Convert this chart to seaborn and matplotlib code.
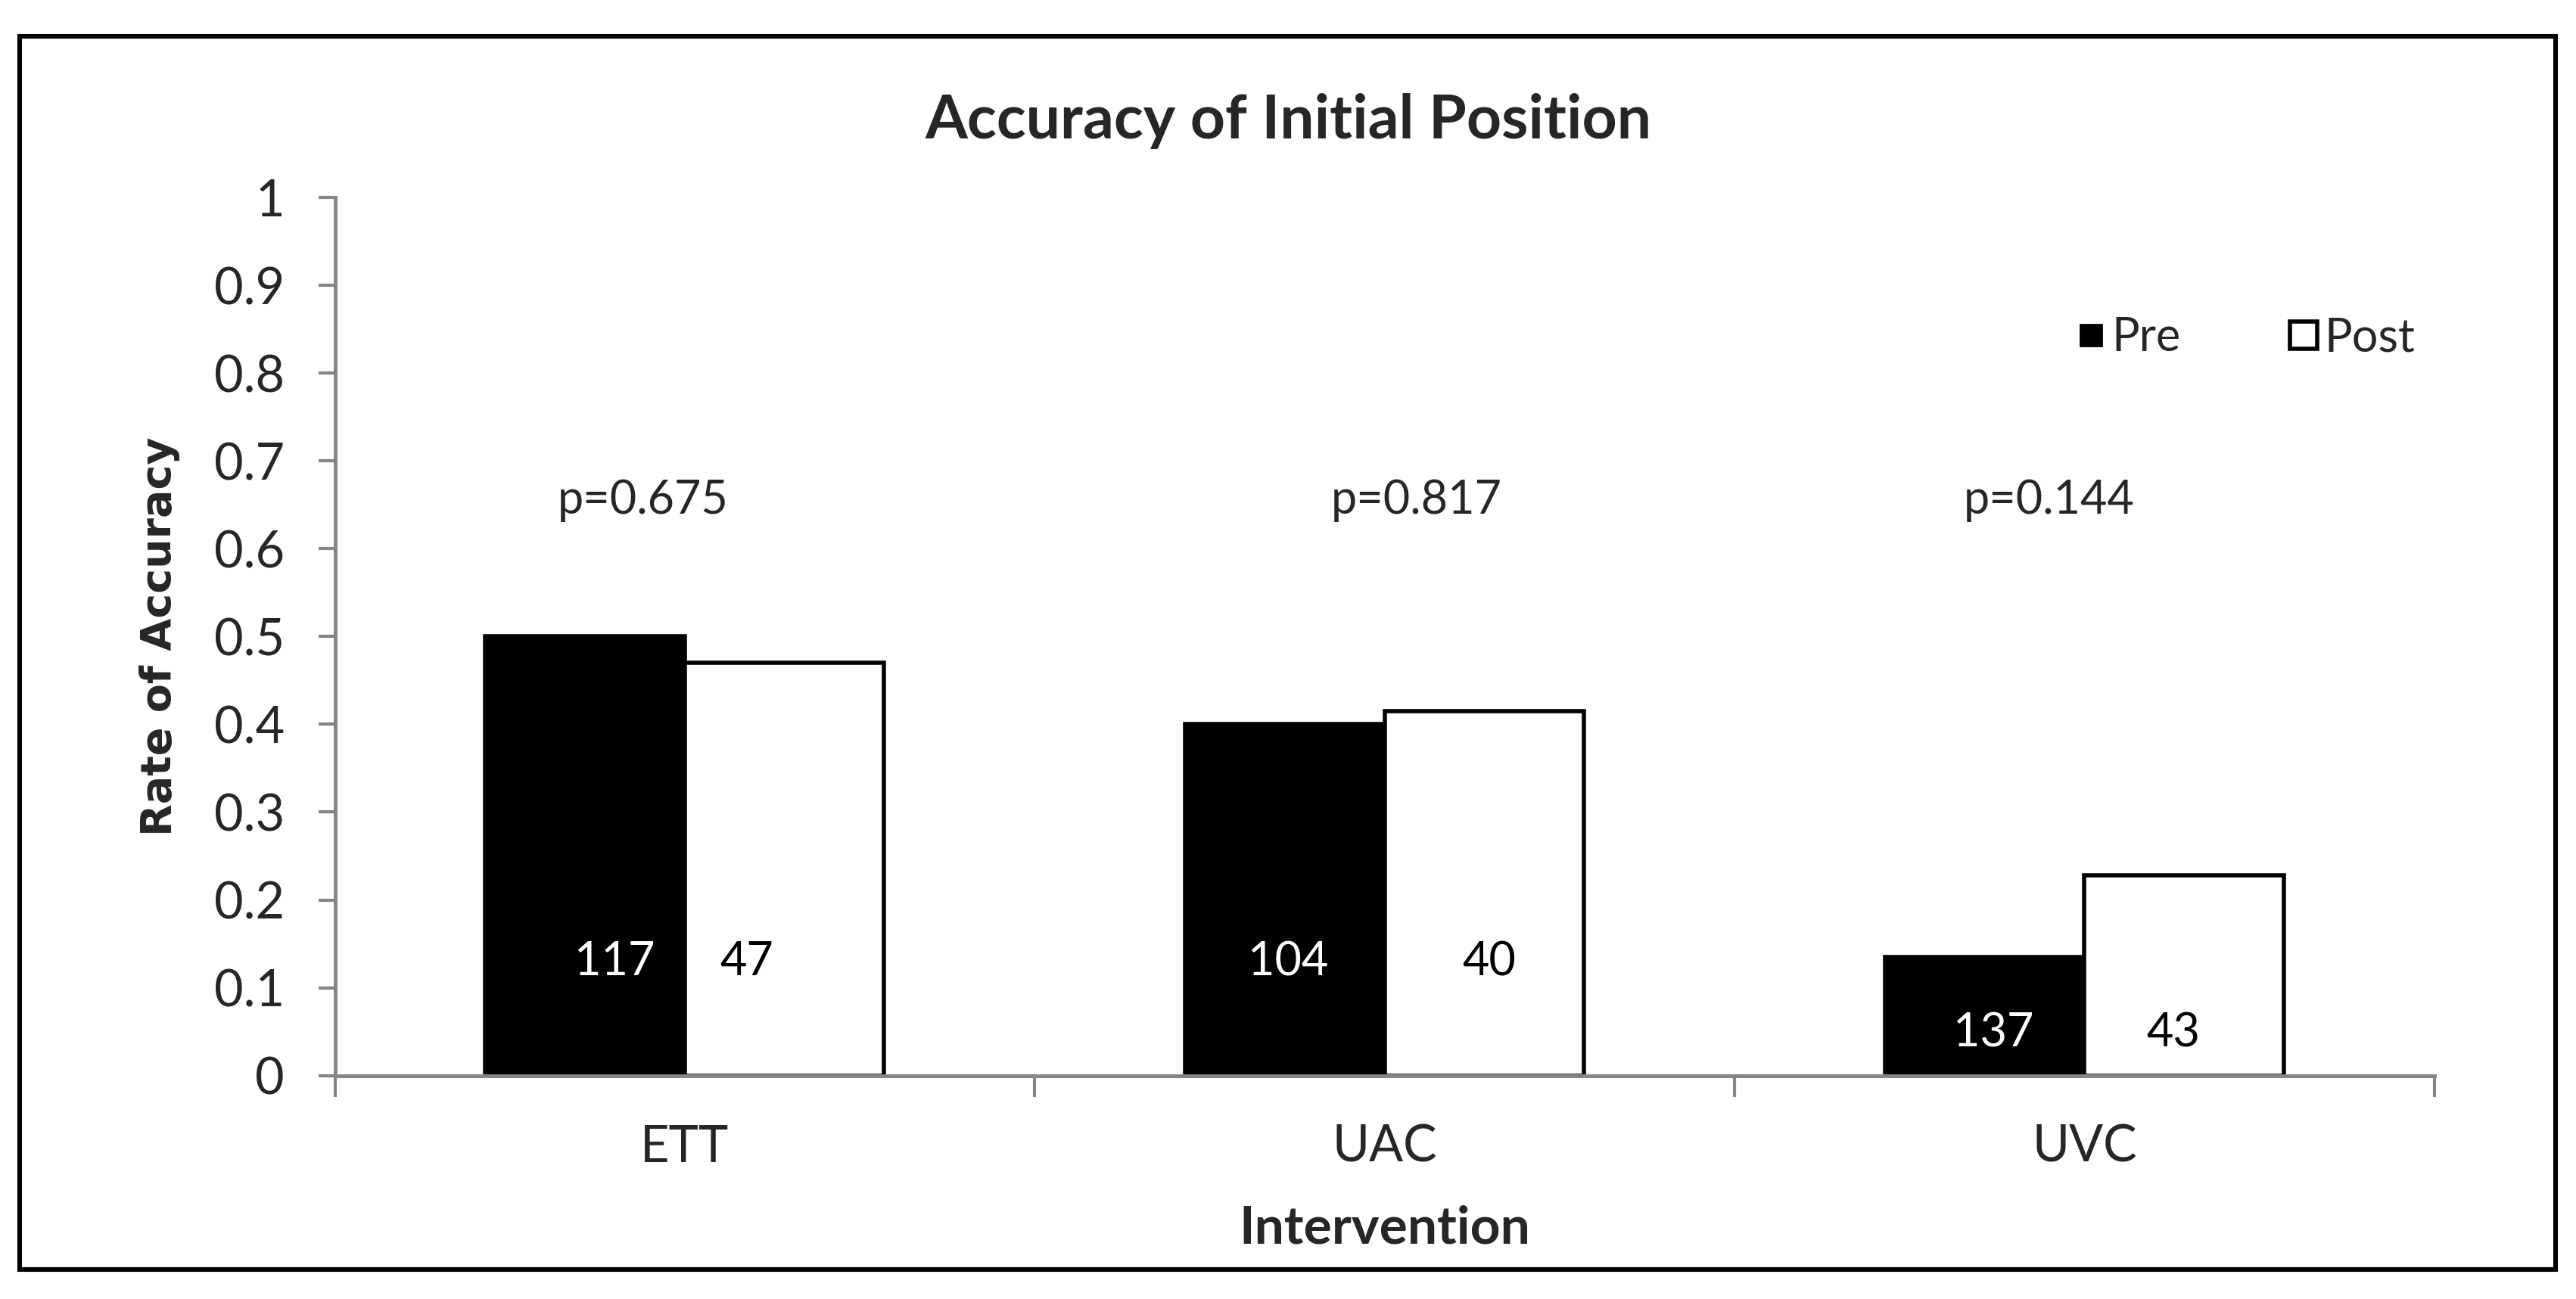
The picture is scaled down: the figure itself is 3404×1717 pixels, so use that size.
import matplotlib
matplotlib.use("Agg")
import matplotlib.pyplot as plt
import matplotlib.patches as mpatches
from matplotlib.lines import Line2D
import numpy as np
import pandas as pd
import seaborn as sns

# data
interventions = ["ETT", "UAC", "UVC"]
pre_rate = [0.50, 0.40, 0.135]
post_rate = [0.47, 0.415, 0.228]
pre_n = [117, 104, 137]
post_n = [47, 40, 43]
p_values = ["p=0.675", "p=0.817", "p=0.144"]
count_label_y = [0.129, 0.129, 0.048]
y_ticks = [0, 0.1, 0.2, 0.3, 0.4, 0.5, 0.6, 0.7, 0.8, 0.9, 1]
y_tick_labels = ["0", "0.1", "0.2", "0.3", "0.4", "0.5", "0.6", "0.7", "0.8", "0.9", "1"]

df = pd.DataFrame({
    "Intervention": interventions * 2,
    "Rate": pre_rate + post_rate,
    "Period": ["Pre"] * 3 + ["Post"] * 3,
})

sns.set_style("white")
plt.rcParams["font.family"] = ["Lato", "DejaVu Sans"]

fig = plt.figure(figsize=(17.02, 8.585), dpi=200)
ax = fig.add_axes([0.130, 0.172, 0.815, 0.676])

sns.barplot(data=df, x="Intervention", y="Rate", hue="Period",
            palette={"Pre": "black", "Post": "white"}, width=0.57,
            edgecolor="black", linewidth=2, legend=False, ax=ax)

ax.set_ylim(0, 1)
ax.set_xlim(-0.5, 2.5)
ax.set_yticks(y_ticks)
ax.set_yticklabels(y_tick_labels, fontsize=24)
ax.tick_params(axis="y", direction="out", length=8, width=1.5, color="#868686",
               left=True, pad=16)
ax.set_xticks(range(len(interventions)))
ax.set_xticklabels(interventions, fontsize=24)
ax.set_xticks([-0.5, 0.5, 1.5, 2.5], minor=True)
ax.tick_params(axis="x", which="major", length=0, pad=23)
ax.tick_params(axis="x", which="minor", direction="out", length=10, width=1.5,
               color="#868686", bottom=True)

for side in ["top", "right"]:
    ax.spines[side].set_visible(False)
for side in ["left", "bottom"]:
    ax.spines[side].set_color("#868686")
    ax.spines[side].set_linewidth(1.8)

ax.set_xlabel("Intervention", fontsize=25, fontweight="bold", labelpad=16)
ax.set_ylabel("Rate of Accuracy", fontsize=20, fontweight="bold",
              family="DejaVu Sans", labelpad=16)
fig.suptitle("Accuracy of Initial Position", fontsize=29, fontweight="bold",
             x=0.5, y=0.907, va="center")

# sample sizes inside bars
pre_dx = [0.042, 0.005, 0.012]
post_dx = [-0.054, 0.007, -0.016]
pre_bars, post_bars = ax.containers[0], ax.containers[1]
for i in range(len(interventions)):
    b = pre_bars[i]
    ax.text(b.get_x() + b.get_width() / 2 + pre_dx[i], count_label_y[i], str(pre_n[i]),
            ha="center", va="center", color="white", fontsize=22)
    b = post_bars[i]
    ax.text(b.get_x() + b.get_width() / 2 + post_dx[i], count_label_y[i], str(post_n[i]),
            ha="center", va="center", color="black", fontsize=22)

# p-values
p_x = [-0.06, 0.045, -0.05]
for i, p in enumerate(p_values):
    ax.text(i + p_x[i], 0.655, p, ha="center", va="center", fontsize=22)

handles = [Line2D([], [], linestyle="none", marker="s", markersize=10,
                  markerfacecolor="black", markeredgecolor="black", label="Pre"),
           Line2D([], [], linestyle="none", marker="s", markersize=13,
                  markerfacecolor="white", markeredgecolor="black",
                  markeredgewidth=2, label="Post")]
ax.legend(handles=handles, ncol=2, frameon=False, fontsize=22,
          loc="center left", bbox_to_anchor=(0.81, 0.84),
          handlelength=0.6, handletextpad=0.15, columnspacing=2.35)

# outer frame
fig.patches.append(mpatches.Rectangle((0.0077, 0.023), 0.9843, 0.949,
                                      transform=fig.transFigure, fill=False,
                                      edgecolor="black", linewidth=2.2))

fig.savefig("out.png", dpi=200, facecolor="white")
